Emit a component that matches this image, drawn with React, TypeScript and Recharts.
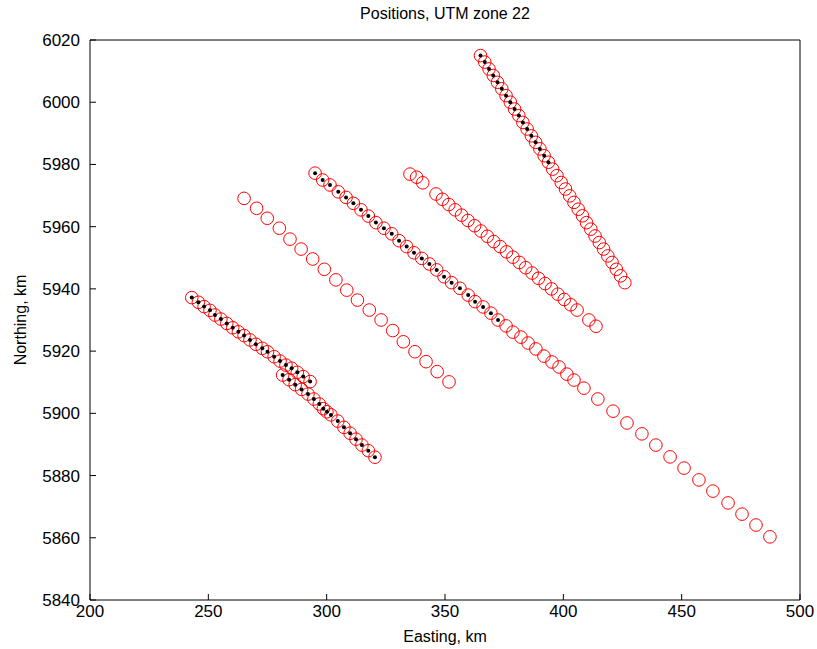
import { ScatterChart, Scatter, XAxis, YAxis } from "recharts";

// Survey line positions (UTM zone 22), easting / northing in km

// line A - top right
const eastA = [365.0, 366.8, 368.6, 370.4, 372.2, 374.0, 375.8, 377.6, 379.4, 381.2, 382.9, 384.7, 386.5, 388.3, 390.1, 391.9, 393.7, 395.5, 397.3, 399.1, 400.9, 402.7, 404.5, 406.3, 408.1, 409.8, 411.6, 413.4, 415.2, 417.0, 418.8, 420.6, 422.4, 424.2, 426.0];
const northA = [6015.0, 6012.9, 6010.7, 6008.6, 6006.4, 6004.3, 6002.1, 6000.0, 5997.8, 5995.7, 5993.5, 5991.4, 5989.2, 5987.1, 5985.0, 5982.8, 5980.7, 5978.5, 5976.4, 5974.2, 5972.1, 5969.9, 5967.8, 5965.6, 5963.5, 5961.3, 5959.2, 5957.0, 5954.9, 5952.8, 5950.6, 5948.5, 5946.3, 5944.2, 5942.0];
const doneA = 17;

// line B - red only
const eastB = [335.2, 338.0, 340.6, 346.2, 348.9, 351.6, 354.3, 357.0, 359.7, 362.5, 365.2, 367.9, 370.6, 373.3, 376.0, 378.7, 381.4, 384.1, 386.8, 389.5, 392.3, 395.0, 397.7, 400.4, 403.1, 405.8, 410.8, 413.8];
const northB = [5976.9, 5975.9, 5974.1, 5970.5, 5968.8, 5967.1, 5965.4, 5963.7, 5962.0, 5960.3, 5958.6, 5956.9, 5955.2, 5953.6, 5951.9, 5950.2, 5948.5, 5946.8, 5945.1, 5943.4, 5941.7, 5940.0, 5938.3, 5936.6, 5934.9, 5933.2, 5930.0, 5928.0];

// line C - long middle line
const eastC = [295.1, 298.3, 301.4, 304.9, 308.2, 311.3, 314.5, 317.6, 320.8, 324.2, 327.5, 330.6, 333.8, 336.9, 340.2, 343.4, 346.5, 349.6, 352.8, 356.3, 359.8, 362.7, 366.1, 369.4, 372.4,
  375.8, 378.7, 382.1, 385.1, 388.4, 391.8, 395.2, 398.2, 401.5, 404.5, 408.7, 414.6, 421.0, 426.9, 433.2, 439.1, 445.1, 451.0, 457.3, 463.2, 469.6, 475.5, 481.4, 487.3];
const northC = [5977.2, 5975.0, 5973.4, 5971.2, 5969.4, 5967.5, 5965.4, 5963.4, 5961.3, 5959.5, 5957.7, 5955.5, 5953.6, 5951.6, 5949.8, 5948.0, 5946.1, 5943.9, 5942.0, 5940.2, 5938.0, 5935.9, 5934.2, 5932.2, 5930.0,
  5928.1, 5926.1, 5924.5, 5922.6, 5920.7, 5918.4, 5916.5, 5914.9, 5912.6, 5910.7, 5908.1, 5904.6, 5900.7, 5896.9, 5893.4, 5889.8, 5886.0, 5882.4, 5878.6, 5875.0, 5871.2, 5867.6, 5864.1, 5860.3];
const doneC = 25;

// line D - red only
const eastD = [265.1, 270.4, 274.9, 280.0, 284.5, 289.2, 294.1, 299.0, 303.9, 308.5, 313.0, 318.0, 323.0, 327.9, 332.4, 337.3, 342.0, 346.7, 351.7];
const northD = [5969.1, 5965.9, 5962.7, 5959.5, 5956.0, 5952.8, 5949.6, 5946.3, 5942.9, 5939.6, 5936.4, 5933.2, 5930.0, 5926.6, 5923.0, 5919.8, 5916.6, 5913.4, 5910.1];

// line E - lower left
const eastE = [243.0, 245.8, 248.2, 250.7, 252.8, 255.3, 257.8, 260.3, 262.7, 265.1, 267.6, 270.1, 272.8, 275.0, 277.8, 280.3, 282.8, 285.2, 287.6, 290.1, 293.0];
const northE = [5937.2, 5935.7, 5934.3, 5933.1, 5931.6, 5930.3, 5928.9, 5927.5, 5926.2, 5925.0, 5923.6, 5922.2, 5920.9, 5919.8, 5918.2, 5916.8, 5915.5, 5914.5, 5913.2, 5911.8, 5910.2];

// line F - lower segment
const eastF = [281.4, 284.1, 286.7, 289.4, 292.1, 294.6, 296.9, 298.6, 300.1, 301.8, 304.7, 307.3, 309.9, 312.4, 314.9, 317.6, 320.4];
const northF = [5912.3, 5910.8, 5909.2, 5907.7, 5906.2, 5904.6, 5903.0, 5901.5, 5900.5, 5899.5, 5897.5, 5895.5, 5893.6, 5891.7, 5889.8, 5888.0, 5885.9];

const xTicks = [200, 250, 300, 350, 400, 450, 500];
const yTicks = [5840, 5860, 5880, 5900, 5920, 5940, 5960, 5980, 6000, 6020];

const pts = (e: number[], n: number[], count = e.length) =>
  e.slice(0, count).map((x, i) => ({ x, y: n[i] }));

const planned = [
  ...pts(eastA, northA),
  ...pts(eastB, northB),
  ...pts(eastC, northC),
  ...pts(eastD, northD),
  ...pts(eastE, northE),
  ...pts(eastF, northF),
];

const actual = [
  ...pts(eastA, northA, doneA),
  ...pts(eastC, northC, doneC),
  ...pts(eastE, northE),
  ...pts(eastF, northF),
];

const font = "'Liberation Sans', Arial, Helvetica, sans-serif";
const tickStyle = { fontSize: 17, fill: "#000", fontFamily: font };

const RedCircle = (props: any) => (
  <circle cx={props.cx} cy={props.cy} r={6.3} fill="none" stroke="#ff0000" strokeWidth={1} />
);
const BlackDot = (props: any) => (
  <circle cx={props.cx} cy={props.cy} r={2} fill="#000" />
);

export default function App() {
  return (
    <div style={{ position: "absolute", left: 0, top: 0, width: 817, height: 649, background: "#fff", fontFamily: font }}>
      <div style={{ position: "absolute", top: 4, left: 90, width: 710, textAlign: "center", fontSize: 16, lineHeight: "19px", color: "#000" }}>
        Positions, UTM zone 22
      </div>
      <ScatterChart width={817} height={649} margin={{ top: 10, right: 7, bottom: 0, left: 0 }}>
        <XAxis
          type="number"
          dataKey="x"
          domain={[200, 500]}
          ticks={xTicks}
          allowDataOverflow
          height={49}
          stroke="#000"
          tickSize={-6}
          tickMargin={11}
          tick={tickStyle}
          label={{ value: "Easting, km", position: "insideBottom", offset: 7, style: { fontSize: 16, fill: "#000", fontFamily: font } }}
        />
        <XAxis xAxisId="top" orientation="top" type="number" dataKey="x" domain={[200, 500]} ticks={xTicks} height={30} stroke="#000" tickSize={-6} tick={false} />
        <YAxis
          type="number"
          dataKey="y"
          domain={[5840, 6020]}
          ticks={yTicks}
          allowDataOverflow
          width={90}
          stroke="#000"
          tickSize={-6}
          tickMargin={16}
          tick={tickStyle}
          label={{ value: "Northing, km", angle: -90, position: "insideLeft", offset: 20, style: { fontSize: 16, fill: "#000", fontFamily: font, textAnchor: "middle" } }}
        />
        <YAxis yAxisId="right" orientation="right" type="number" dataKey="y" domain={[5840, 6020]} ticks={yTicks} width={10} stroke="#000" tickSize={-6} tick={false} />
        <Scatter data={planned} shape={RedCircle} isAnimationActive={false} />
        <Scatter data={actual} shape={BlackDot} isAnimationActive={false} />
      </ScatterChart>
    </div>
  );
}
